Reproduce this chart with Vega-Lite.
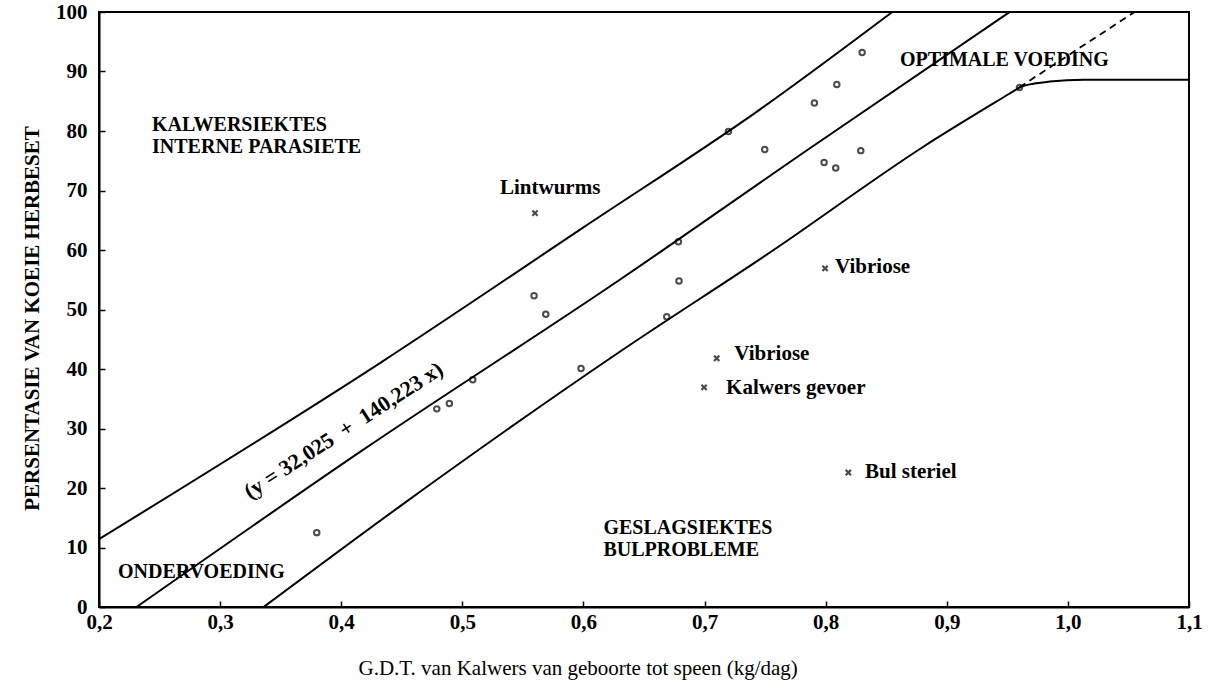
{
  "$schema": "https://vega.github.io/schema/vega-lite/v6.json",
  "width": 1090,
  "height": 595,
  "autosize": "none",
  "padding": {"left": 99, "top": 12, "right": 20, "bottom": 79},
  "background": "white",
  "config": {
    "view": {"stroke": "black", "strokeWidth": 2},
    "font": "Liberation Serif",
    "axis": {
      "grid": false,
      "domainColor": "black",
      "domainWidth": 2,
      "tickColor": "black",
      "tickWidth": 1.5,
      "tickSize": -6,
      "labelFont": "Liberation Serif",
      "labelFontSize": 21,
      "labelFontWeight": "bold",
      "labelColor": "black",
      "titleFont": "Liberation Serif",
      "titleColor": "black",
      "labelOverlap": false,
      "labelFlush": false
    }
  },
  "datasets": {
    "bands": [
      {"line": "upper", "ord": 1, "x": 0.2, "y": 11.4},
      {"line": "upper", "ord": 2, "x": 0.432, "y": 41.0},
      {"line": "upper", "ord": 3, "x": 0.6, "y": 63.8},
      {"line": "upper", "ord": 4, "x": 0.7456, "y": 83.6},
      {"line": "upper", "ord": 5, "x": 0.855, "y": 100},
      {"line": "middle", "ord": 1, "x": 0.231, "y": 0},
      {"line": "middle", "ord": 2, "x": 0.418, "y": 26.4},
      {"line": "middle", "ord": 3, "x": 0.63, "y": 55.0},
      {"line": "middle", "ord": 4, "x": 0.787, "y": 77.1},
      {"line": "middle", "ord": 5, "x": 0.952, "y": 100}
    ],
    "lower": [
      {"ord": 1, "x": 0.336, "y": 0},
      {"ord": 2, "x": 0.449, "y": 17.0},
      {"ord": 3, "x": 0.63, "y": 42.9},
      {"ord": 4, "x": 0.757, "y": 60.0},
      {"ord": 5, "x": 0.881, "y": 77.4},
      {"ord": 6, "x": 0.952, "y": 86.3},
      {"ord": 7, "x": 0.9605, "y": 87.35},
      {"ord": 8, "x": 0.9715, "y": 87.95},
      {"ord": 9, "x": 0.985, "y": 88.3},
      {"ord": 10, "x": 1.013, "y": 88.6},
      {"ord": 11, "x": 1.1, "y": 88.6}
    ],
    "dashed": [
      {"ord": 1, "x": 0.96, "y": 87.35},
      {"ord": 2, "x": 1.055, "y": 100}
    ],
    "circles": [
      {"x": 0.3798, "y": 12.5},
      {"x": 0.4789, "y": 33.3},
      {"x": 0.4893, "y": 34.2},
      {"x": 0.5086, "y": 38.2},
      {"x": 0.5592, "y": 52.3},
      {"x": 0.5689, "y": 49.2},
      {"x": 0.598, "y": 40.1},
      {"x": 0.6688, "y": 48.8},
      {"x": 0.6784, "y": 61.4},
      {"x": 0.6789, "y": 54.8},
      {"x": 0.7197, "y": 79.9},
      {"x": 0.7497, "y": 76.9},
      {"x": 0.7907, "y": 84.7},
      {"x": 0.7987, "y": 74.7},
      {"x": 0.8083, "y": 73.8},
      {"x": 0.8092, "y": 87.8},
      {"x": 0.829, "y": 76.7},
      {"x": 0.8301, "y": 93.2},
      {"x": 0.96, "y": 87.3}
    ],
    "crosses": [
      {"x": 0.56, "y": 66.2},
      {"x": 0.7995, "y": 56.9},
      {"x": 0.71, "y": 41.8},
      {"x": 0.6996, "y": 36.9},
      {"x": 0.8187, "y": 22.6}
    ],
    "regions": [
      {"x": 0.2438, "y": 81.0, "text": "KALWERSIEKTES"},
      {"x": 0.2438, "y": 77.3, "text": "INTERNE PARASIETE"},
      {"x": 0.2157, "y": 5.9, "text": "ONDERVOEDING"},
      {"x": 0.6165, "y": 13.2, "text": "GESLAGSIEKTES"},
      {"x": 0.6165, "y": 9.6, "text": "BULPROBLEME"},
      {"x": 0.8614, "y": 91.9, "text": "OPTIMALE VOEDING"}
    ],
    "labels": [
      {"x": 0.5311, "y": 70.4, "text": "Lintwurms"},
      {"x": 0.8078, "y": 57.2, "text": "Vibriose"},
      {"x": 0.7246, "y": 42.6, "text": "Vibriose"},
      {"x": 0.7178, "y": 36.8, "text": "Kalwers gevoer"},
      {"x": 0.8325, "y": 22.7, "text": "Bul steriel"}
    ],
    "equation": [
      {"x": 0.4019, "y": 29.7, "text": "(y = 32,025\u00a0 +\u00a0 140,223 x)"}
    ]
  },
  "layer": [
    {
      "data": {"name": "bands"},
      "mark": {"type": "line", "color": "black", "strokeWidth": 2, "interpolate": "monotone"},
      "encoding": {
        "x": {
          "field": "x", "type": "quantitative",
          "scale": {"domain": [0.2, 1.1], "nice": false, "zero": false},
          "axis": {
            "values": [0.2, 0.3, 0.4, 0.5, 0.6, 0.7, 0.8, 0.9, 1.0, 1.1],
            "labelExpr": "replace(format(datum.value, '.1f'), '.', ',')",
            "labelPadding": 10,
            "title": "G.D.T. van Kalwers van geboorte tot speen (kg/dag)",
            "titleFontSize": 21,
            "titleFontWeight": "normal",
            "titleX": 259,
            "titleY": 61,
            "titleAlign": "left",
            "titleBaseline": "middle"
          }
        },
        "y": {
          "field": "y", "type": "quantitative",
          "scale": {"domain": [0, 100], "nice": false},
          "axis": {
            "values": [0, 10, 20, 30, 40, 50, 60, 70, 80, 90, 100],
            "format": "d",
            "labelPadding": 18,
            "title": "PERSENTASIE VAN KOEIE HERBESET",
            "titleFontSize": 21,
            "titleFontWeight": "bold",
            "titleAngle": 270,
            "titleX": -67,
            "titleY": 306,
            "titleAlign": "center",
            "titleBaseline": "middle"
          }
        },
        "detail": {"field": "line"},
        "order": {"field": "ord", "type": "quantitative"}
      }
    },
    {
      "data": {"name": "lower"},
      "mark": {"type": "line", "color": "black", "strokeWidth": 2, "interpolate": "monotone"},
      "encoding": {
        "x": {"field": "x", "type": "quantitative"},
        "y": {"field": "y", "type": "quantitative"},
        "order": {"field": "ord", "type": "quantitative"}
      }
    },
    {
      "data": {"name": "dashed"},
      "mark": {"type": "line", "color": "black", "strokeWidth": 1.8, "strokeDash": [7, 5]},
      "encoding": {
        "x": {"field": "x", "type": "quantitative"},
        "y": {"field": "y", "type": "quantitative"},
        "order": {"field": "ord", "type": "quantitative"}
      }
    },
    {
      "data": {"name": "circles"},
      "mark": {"type": "point", "shape": "circle", "filled": false, "color": "black", "size": 30, "strokeWidth": 2},
      "encoding": {
        "x": {"field": "x", "type": "quantitative"},
        "y": {"field": "y", "type": "quantitative"}
      }
    },
    {
      "data": {"name": "crosses"},
      "mark": {"type": "point", "shape": "M-1,-1L1,1M-1,1L1,-1", "filled": false, "color": "black", "size": 28, "strokeWidth": 2.2},
      "encoding": {
        "x": {"field": "x", "type": "quantitative"},
        "y": {"field": "y", "type": "quantitative"}
      }
    },
    {
      "data": {"name": "regions"},
      "mark": {"type": "text", "font": "Liberation Serif", "fontSize": 20, "fontWeight": "bold", "color": "black", "align": "left", "baseline": "middle"},
      "encoding": {
        "x": {"field": "x", "type": "quantitative"},
        "y": {"field": "y", "type": "quantitative"},
        "text": {"field": "text"}
      }
    },
    {
      "data": {"name": "labels"},
      "mark": {"type": "text", "font": "Liberation Serif", "fontSize": 21, "fontWeight": "bold", "color": "black", "align": "left", "baseline": "middle"},
      "encoding": {
        "x": {"field": "x", "type": "quantitative"},
        "y": {"field": "y", "type": "quantitative"},
        "text": {"field": "text"}
      }
    },
    {
      "data": {"name": "equation"},
      "mark": {"type": "text", "font": "Liberation Serif", "fontSize": 22, "fontWeight": "bold", "color": "black", "align": "center", "baseline": "middle", "angle": 327},
      "encoding": {
        "x": {"field": "x", "type": "quantitative"},
        "y": {"field": "y", "type": "quantitative"},
        "text": {"field": "text"}
      }
    }
  ]
}
